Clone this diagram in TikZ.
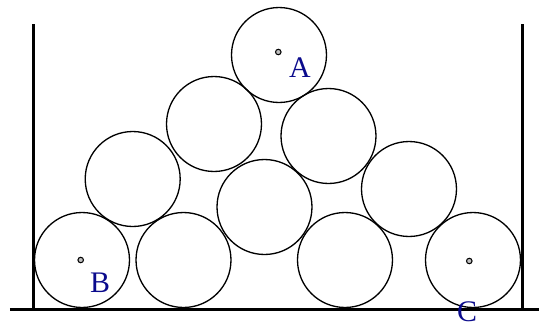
\documentclass[tikz,border=0pt]{standalone}
\usepackage{fontspec}
\setmainfont{Liberation Serif}
\usepackage{tikz}
\usetikzlibrary{positioning}
\definecolor{labelblue}{RGB}{10,10,140}

\begin{document}
\begin{tikzpicture}[
  x=0.02cm, y=-0.02cm,
  ball/.style={draw,circle,line width=0.75pt,minimum size=1.9cm,inner sep=0pt},
  centre/.style={draw,circle,fill=gray!50,line width=0.6pt,minimum size=0.11cm,inner sep=0pt},
  lbl/.style={text=labelblue,font=\fontsize{17}{19}\selectfont,inner sep=0pt},
  wall/.style={line width=1.7pt}
]
  \useasboundingbox (0,0) rectangle (539,326);
  % container
  \draw[wall] (33.3,24) -- (33.3,309);
  \draw[wall] (522.3,24) -- (522.3,309);
  \draw[line width=2pt] (10,309.5) -- (539,309.5);
  % bottom row
  \node[ball] (ballB) at (82,260) {};
  \node[ball] (ball2) at (183.5,260) {};
  \node[ball] (ball3) at (345,260) {};
  \node[ball] (ballC) at (473,260) {};
  % second row
  \node[ball] (midL) at (132.7,179) {};
  \node[ball] (midC) at (264.5,207) {};
  \node[ball] (midR) at (409,189) {};
  % third row
  \node[ball] (upL) at (214,124) {};
  \node[ball] (upR) at (328.5,136) {};
  % top
  \node[ball] (ballA) at (279,55) {};
  % centres and labels
  \node[centre] (dotA) at (278.3,52) {};
  \node[centre] (dotB) at (80.7,260) {};
  \node[centre] (dotC) at (469.3,261) {};
  \node[lbl] (labA) at (300,68) {A};
  \node[lbl] (labB) at (100,283) {B};
  \node[lbl] (labC) at (467,312) {C};
\end{tikzpicture}
\end{document}
